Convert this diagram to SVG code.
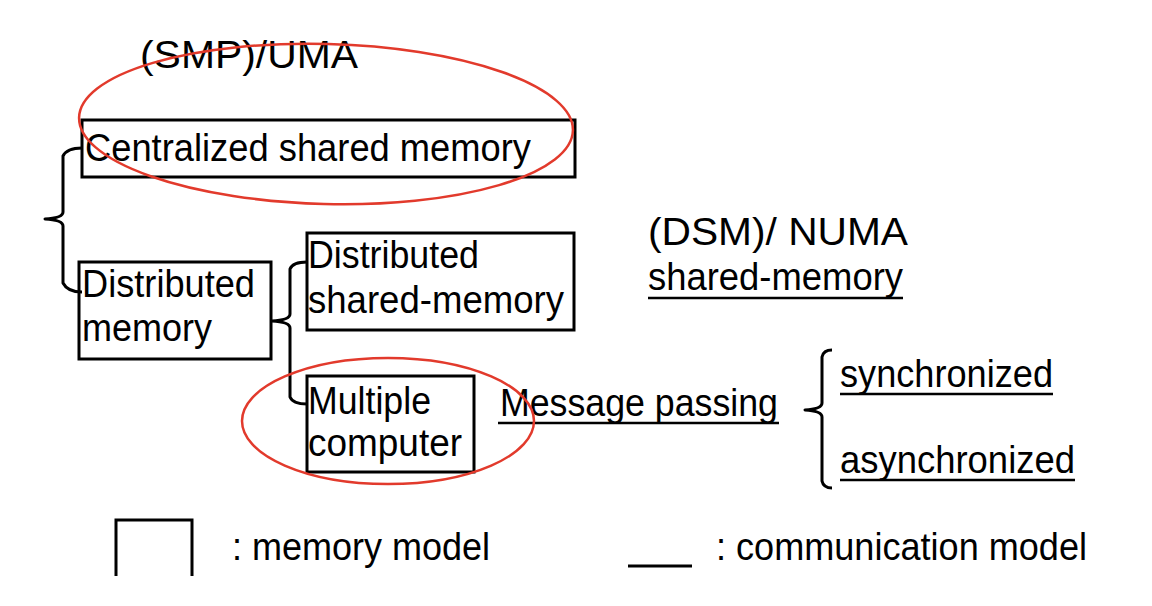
<svg xmlns="http://www.w3.org/2000/svg" width="1152" height="606" viewBox="0 0 1152 606">
<style>
.t{font-family:"Liberation Sans",Arial,sans-serif;font-size:38px;fill:#000}
.box{fill:none;stroke:#000;stroke-width:3}
.br{fill:none;stroke:#000;stroke-width:3;stroke-linejoin:round}
.ul{stroke:#000;stroke-width:2.5}
.red{fill:none;stroke:#e23a2c;stroke-width:2.5}
</style>
<rect width="1152" height="606" fill="#fff"/>
<text class="t" x="140" y="68" textLength="218" lengthAdjust="spacingAndGlyphs">(SMP)/UMA</text>
<g id="connectors">
<path class="br" d="M82,148 C72,148 66,150 63,156 V212 Q63,218 45,219 Q63,220 63,226 V283 C66,289 72,292 82,292"/>
<path class="br" d="M307,262 C298,262 292,264 290,269 V314 Q290,320 272,321 Q290,322 290,328 V397 C292,402 298,404 307,404"/>
<path class="br" d="M832,350 C826,350 823,352 822,357 V403 Q822,409 805,410 Q822,411 822,417 V481 C823,486 826,488 832,488"/>
</g>
<g id="centralized">
<rect class="box" x="82" y="120" width="493" height="57"/>
<text class="t" x="85" y="161" textLength="446" lengthAdjust="spacingAndGlyphs">Centralized shared memory</text>
</g>
<g id="distributed-memory">
<rect class="box" x="79" y="262" width="192" height="97"/>
<text class="t" x="82" y="297" textLength="173" lengthAdjust="spacingAndGlyphs">Distributed</text>
<text class="t" x="82" y="341" textLength="130" lengthAdjust="spacingAndGlyphs">memory</text>
</g>
<g id="dsm">
<rect class="box" x="307" y="233" width="267" height="97"/>
<text class="t" x="308" y="268" textLength="171" lengthAdjust="spacingAndGlyphs">Distributed</text>
<text class="t" x="308" y="313" textLength="256" lengthAdjust="spacingAndGlyphs">shared-memory</text>
</g>
<g id="multiple-computer">
<rect class="box" x="307" y="376" width="167" height="96"/>
<text class="t" x="308" y="414" textLength="123" lengthAdjust="spacingAndGlyphs">Multiple</text>
<text class="t" x="308" y="456" textLength="154" lengthAdjust="spacingAndGlyphs">computer</text>
</g>
<g id="dsm-numa">
<text class="t" x="648" y="245" textLength="260" lengthAdjust="spacingAndGlyphs">(DSM)/ NUMA</text>
<text class="t" x="648" y="290" textLength="255" lengthAdjust="spacingAndGlyphs">shared-memory</text>
<line class="ul" x1="648" y1="298" x2="903" y2="298"/>
</g>
<g id="message-passing">
<text class="t" x="500" y="416" textLength="278" lengthAdjust="spacingAndGlyphs">Message passing</text>
<line class="ul" x1="498" y1="423" x2="779" y2="423"/>
</g>
<g id="synchronized">
<text class="t" x="840" y="387" textLength="213" lengthAdjust="spacingAndGlyphs">synchronized</text>
<line class="ul" x1="840" y1="394" x2="1053" y2="394"/>
</g>
<g id="asynchronized">
<text class="t" x="840" y="473" textLength="235" lengthAdjust="spacingAndGlyphs">asynchronized</text>
<line class="ul" x1="840" y1="480" x2="1075" y2="480"/>
</g>
<g id="highlights">
<ellipse class="red" cx="326" cy="124" rx="247" ry="80" transform="rotate(1.5 326 124)"/>
<ellipse class="red" cx="388" cy="421" rx="146" ry="63"/>
</g>
<g id="legend">
<path class="box" d="M116,576 V520 H192 V576"/>
<text class="t" x="232" y="560" textLength="258" lengthAdjust="spacingAndGlyphs">: memory model</text>
<line x1="628" y1="566" x2="692" y2="566" stroke="#000" stroke-width="3"/>
<text class="t" x="716" y="560" textLength="371" lengthAdjust="spacingAndGlyphs">: communication model</text>
</g>
</svg>
